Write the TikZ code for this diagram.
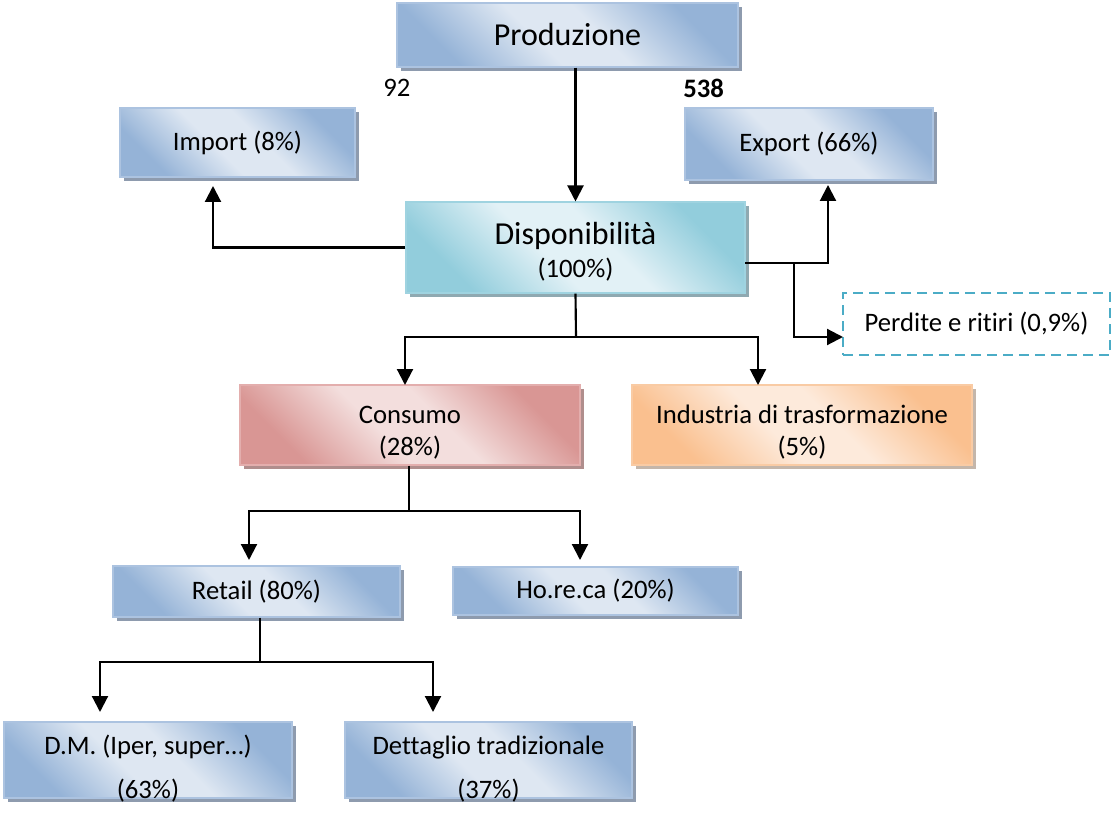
\documentclass[tikz,border=0pt]{standalone}
\usepackage{fontspec}
\setmainfont{Carlito}[Ligatures=NoCommon]
\usetikzlibrary{arrows.meta,shadows}
\definecolor{bD}{HTML}{95B3D7}
\definecolor{bL}{HTML}{DEE7F2}
\definecolor{bS}{HTML}{8E9BAE}
\definecolor{bB}{HTML}{ACC3E0}
\definecolor{tD}{HTML}{92CDDC}
\definecolor{tL}{HTML}{E2F1F6}
\definecolor{tS}{HTML}{8FA9B1}
\definecolor{tB}{HTML}{9FD3E0}
\definecolor{rD}{HTML}{D99694}
\definecolor{rL}{HTML}{F3DEDD}
\definecolor{rS}{HTML}{B08E8D}
\definecolor{rB}{HTML}{E3AEAD}
\definecolor{oD}{HTML}{FAC08F}
\definecolor{oL}{HTML}{FDEADB}
\definecolor{oS}{HTML}{C4B6AA}
\definecolor{oB}{HTML}{F9CBA4}
\definecolor{pB}{HTML}{4BACC6}
\pgfdeclarehorizontalshading{bluesh}{100bp}{color(0bp)=(bD); color(26bp)=(bD); color(44bp)=(bL); color(56bp)=(bL); color(74bp)=(bD); color(100bp)=(bD)}
\pgfdeclarehorizontalshading{tealsh}{100bp}{color(0bp)=(tD); color(26bp)=(tD); color(44bp)=(tL); color(56bp)=(tL); color(74bp)=(tD); color(100bp)=(tD)}
\pgfdeclarehorizontalshading{redsh}{100bp}{color(0bp)=(rD); color(26bp)=(rD); color(44bp)=(rL); color(56bp)=(rL); color(74bp)=(rD); color(100bp)=(rD)}
\pgfdeclarehorizontalshading{orangesh}{100bp}{color(0bp)=(oD); color(26bp)=(oD); color(44bp)=(oL); color(56bp)=(oL); color(74bp)=(oD); color(100bp)=(oD)}
\newcommand\lowtext[2]{\raisebox{-#1}[\height][\depth]{\begin{tabular}{@{}c@{}}#2\end{tabular}}}
\tikzset{
  box/.style={rectangle, inner sep=0pt, align=center, line width=0.8pt,
    font=\fontsize{20}{24}\selectfont, shade, shading angle=45},
  bluebox/.style={box, draw=bB, shading=bluesh, general shadow={fill=bS, shadow xshift=3pt, shadow yshift=-3pt}},
  tealbox/.style={box, draw=tB, shading=tealsh, general shadow={fill=tS, shadow xshift=3pt, shadow yshift=-3pt}},
  redbox/.style={box, draw=rB, shading=redsh, general shadow={fill=rS, shadow xshift=3pt, shadow yshift=-3pt}},
  orangebox/.style={box, draw=oB, shading=orangesh, general shadow={fill=oS, shadow xshift=3pt, shadow yshift=-3pt}},
  dashbox/.style={rectangle, inner sep=0pt, align=center, draw=pB, line width=1.4pt,
    dash pattern=on 7.5pt off 4.5pt, fill=white, font=\fontsize{20}{24}\selectfont},
  numlabel/.style={anchor=west, inner sep=0pt, font=\fontsize{20}{24}\selectfont},
  conn/.style={line width=1.6pt, black},
  arr/.style={conn, -{Triangle[length=12pt,width=12pt]}},
}
\begin{document}
\begin{tikzpicture}[x=0.75pt, y=-0.75pt]
\useasboundingbox (0,0) rectangle (1116,823);
% boxes
\node[bluebox, minimum width=255.75pt, minimum height=48pt, font=\fontsize{24}{28}\selectfont] (prod) at (567.5,35) {Produzione};
\node[bluebox, minimum width=176.25pt, minimum height=51.75pt] (import) at (237.5,142.5) {Import (8\%)};
\node[bluebox, minimum width=186pt, minimum height=54pt] (export) at (809,144) {Export (66\%)};
\node[tealbox, minimum width=254.25pt, minimum height=68.25pt, font=\fontsize{20}{25}\selectfont] (disp) at (575.5,247.5)
  {\lowtext{5pt}{{\fontsize{24}{25}\selectfont Disponibilità}\\(100\%)}};
\node[dashbox, minimum width=200.25pt, minimum height=46.5pt] (perd) at (976.5,324) {Perdite e ritiri (0,9\%)};
\node[redbox, minimum width=255pt, minimum height=60pt] (cons) at (410,425) {\lowtext{6pt}{Consumo\\(28\%)}};
\node[orangebox, minimum width=255pt, minimum height=60pt] (ind) at (802,425) {\lowtext{6pt}{Industria di trasformazione\\(5\%)}};
\node[bluebox, minimum width=215.25pt, minimum height=38.25pt] (retail) at (256.5,591.5) {Retail (80\%)};
\node[bluebox, minimum width=213.75pt, minimum height=36pt] (horeca) at (595.5,591) {Ho.re.ca (20\%)};
\node[bluebox, minimum width=216pt, minimum height=57pt] (dm) at (148,760) {\lowtext{7.5pt}{D.M. (Iper, super…)\\[9pt](63\%)}};
\node[bluebox, minimum width=215.25pt, minimum height=57pt] (dett) at (488.5,760) {\lowtext{7.5pt}{Dettaglio tradizionale\\[9pt](37\%)}};
% numbers
\node[numlabel] (n92) at (383,88) {92};
\node[numlabel, font=\fontsize{20}{24}\selectfont\bfseries] (n538) at (683,88) {538};
% coordinates
\coordinate (impT) at (213,186);
\coordinate (dispR) at (745,263);
\coordinate (expT) at (828,185);
\coordinate (brP) at (794,263);
\coordinate (perdT) at (843,337);
\coordinate (dispB) at (576,337);
\coordinate (consT) at (405,385);
\coordinate (indT) at (758,385);
\coordinate (consB) at (409,511);
\coordinate (retT) at (249,560);
\coordinate (horT) at (580,560);
\coordinate (retB) at (260,662);
\coordinate (dmT) at (100,712);
\coordinate (detT) at (433,712);
% connectors
\draw[arr] (prod.south -| disp.north) -- (disp.north);
\draw[arr] (disp.west) -| (impT);
\draw[arr] (dispR) -| (expT);
\draw[arr] (brP) |- (perdT);
\draw[conn] (disp.south) -- (dispB);
\draw[arr] (dispB) -| (consT);
\draw[arr] (dispB) -| (indT);
\draw[conn] (cons.south -| consB) -- (consB);
\draw[arr] (consB) -| (retT);
\draw[arr] (consB) -| (horT);
\draw[conn] (retail.south -| retB) -- (retB);
\draw[arr] (retB) -| (dmT);
\draw[arr] (retB) -| (detT);
\end{tikzpicture}
\end{document}
